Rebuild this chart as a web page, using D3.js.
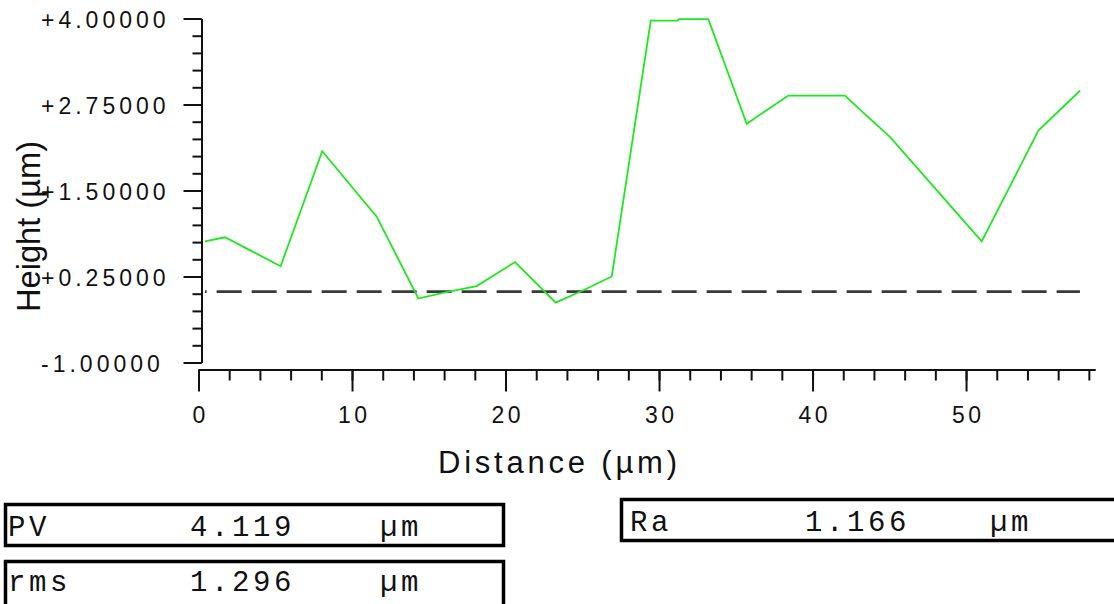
<!DOCTYPE html>
<html>
<head>
<meta charset="utf-8">
<script src="https://cdn.jsdelivr.net/npm/d3@7"></script>
<style>
  html, body { margin: 0; padding: 0; background: #fff; }
  svg { display: block; }
</style>
</head>
<body>
<svg id="chart" width="1114" height="604"></svg>
<script>
// Surface profile: distance along the trace (µm) and measured height (µm)
const distance = [0.42, 1.73, 5.35, 8.06, 11.61, 14.32, 16.06, 18.12, 20.62, 23.27, 25.07, 26.92,
                  29.46, 31.19, 31.30, 33.21, 35.71, 38.42, 42.11, 43.41, 45.04, 51.02, 54.71, 57.42];
const height   = [0.76, 0.82, 0.40, 2.07, 1.12, -0.07, 0.02, 0.11, 0.46, -0.13, 0.05, 0.25,
                  3.97, 3.97, 3.99, 3.99, 2.47, 2.88, 2.88, 2.61, 2.28, 0.76, 2.37, 2.95];

// Reference level drawn as a dashed line
const referenceLevel = 0.03;

// Axis ticks
const yMajorTicks = [4, 2.75, 1.5, 0.25, -1];
const yMinorTicks = d3.range(-1, 4.001, 0.25);
const xMajorTicks = [0, 10, 20, 30, 40, 50];
const xMinorTicks = d3.range(0, 58.01, 2);

// Roughness summary
const statNames  = ["PV", "rms", "Ra"];
const statValues = ["4.119", "1.296", "1.166"];
const statUnits  = ["µm", "µm", "µm"];

const svg = d3.select("#chart");

const x = d3.scaleLinear().domain([0, 58.4]).range([198.5, 1095]);
const y = d3.scaleLinear().domain([-1, 4]).range([362.5, 18.5]);

const axisX = 201.5;   // vertical axis position
const axisY = 369.5;   // horizontal axis position

// ---- vertical axis ----
const yMinor = svg.append("g").attr("transform", `translate(${axisX},0)`)
  .call(d3.axisLeft(y).tickValues(yMinorTicks).tickSize(9).tickSizeOuter(0).tickFormat(""));
const yMajor = svg.append("g").attr("transform", `translate(${axisX},0)`)
  .call(d3.axisLeft(y).tickValues(yMajorTicks).tickSize(18).tickSizeOuter(0)
        .tickFormat(d => (d >= 0 ? "+" : "") + d.toFixed(5)));

[yMinor, yMajor].forEach(g => {
  g.selectAll("path.domain").attr("stroke", "#111").attr("stroke-width", 2);
  g.selectAll(".tick line").attr("stroke", "#111").attr("stroke-width", 2);
});
yMajor.selectAll(".tick text")
  .attr("x", 41 - axisX)
  .attr("dy", null)
  .attr("y", 8.5)
  .attr("text-anchor", "start")
  .attr("fill", "#111")
  .style("font-family", "'Liberation Sans', Arial, sans-serif")
  .style("font-size", "23px")
  .style("letter-spacing", "4px");

// ---- horizontal axis ----
const xMinor = svg.append("g").attr("transform", `translate(0,${axisY})`)
  .call(d3.axisBottom(x).tickValues(xMinorTicks).tickSize(11).tickSizeOuter(0).tickFormat(""));
const xMajor = svg.append("g").attr("transform", `translate(0,${axisY})`)
  .call(d3.axisBottom(x).tickValues(xMajorTicks).tickSize(22).tickSizeOuter(0).tickFormat(d3.format("d")));

[xMinor, xMajor].forEach(g => {
  g.selectAll("path.domain").attr("stroke", "#111").attr("stroke-width", 2);
  g.selectAll(".tick line").attr("stroke", "#111").attr("stroke-width", 2);
});
xMajor.selectAll(".tick text")
  .attr("y", 423 - axisY)
  .attr("dy", null)
  .attr("dx", 1.75)
  .attr("fill", "#111")
  .style("font-family", "'Liberation Sans', Arial, sans-serif")
  .style("font-size", "23px")
  .style("letter-spacing", "3.5px");

// ---- axis titles ----
svg.append("text")
  .attr("x", 438).attr("y", 472.5)
  .attr("textLength", 239).attr("lengthAdjust", "spacing")
  .attr("fill", "#111")
  .style("font-family", "'Liberation Sans', Arial, sans-serif")
  .style("font-size", "31px")
  .text("Distance (µm)");

svg.append("text")
  .attr("transform", "translate(40,312) rotate(-90)")
  .attr("textLength", 171).attr("lengthAdjust", "spacingAndGlyphs")
  .attr("fill", "#111")
  .style("font-family", "'Liberation Sans', Arial, sans-serif")
  .style("font-size", "34px")
  .text("Height (µm)");

// ---- reference level ----
svg.append("line")
  .attr("x1", x(distance[0])).attr("x2", x(distance[distance.length - 1]))
  .attr("y1", y(referenceLevel)).attr("y2", y(referenceLevel))
  .attr("stroke", "#3a3a3a")
  .attr("stroke-width", 2.6)
  .attr("stroke-dasharray", "25,10")
  .attr("stroke-dashoffset", 23.3);

// ---- profile ----
const profile = distance.map((d, i) => [d, height[i]]);
svg.append("path")
  .datum(profile)
  .attr("fill", "none")
  .attr("stroke", "#1ee81e")
  .attr("stroke-width", 1.8)
  .attr("stroke-linejoin", "miter")
  .attr("d", d3.line().x(d => x(d[0])).y(d => y(d[1])));

// ---- summary boxes ----
const boxes = [
  { rect: [5.5, 504.5, 498, 41], cols: [8, 190, 380], base: 535.5 },
  { rect: [5.5, 561.5, 498, 60], cols: [8, 190, 380], base: 590.5 },
  { rect: [621.5, 499.5, 600, 41], cols: [630, 805, 990], base: 530.5 }
];

const boxG = svg.selectAll("g.stat").data(statNames).join("g").attr("class", "stat");
boxG.append("rect")
  .attr("x", (d, i) => boxes[i].rect[0])
  .attr("y", (d, i) => boxes[i].rect[1])
  .attr("width", (d, i) => boxes[i].rect[2])
  .attr("height", (d, i) => boxes[i].rect[3])
  .attr("fill", "#fff")
  .attr("stroke", "#000")
  .attr("stroke-width", 3.5);

boxG.each(function (d, i) {
  const g = d3.select(this);
  const parts = [statNames[i], statValues[i], statUnits[i]];
  parts.forEach((t, k) => {
    g.append("text")
      .attr("x", boxes[i].cols[k])
      .attr("y", boxes[i].base)
      .attr("fill", "#111")
      .style("font-family", "'Liberation Mono', 'Courier New', monospace")
      .style("font-size", "29px")
      .style("letter-spacing", "3.6px")
      .text(t);
  });
});
</script>
</body>
</html>
